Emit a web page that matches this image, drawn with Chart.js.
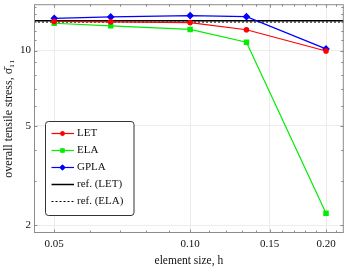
<!DOCTYPE html>
<html>
<head>
<meta charset="utf-8">
<script src="https://cdn.jsdelivr.net/npm/chart.js@4/dist/chart.umd.min.js"></script>
<style>
  html, body { margin: 0; padding: 0; background: #fff; }
  #box { width: 348px; height: 272px; }
</style>
</head>
<body>
<div id="box"><canvas id="stress"></canvas></div>
<script>
// element size h (x) and overall tensile stress (y)
const elementSizes = [0.05, 0.0667, 0.10, 0.1333, 0.20];
const stressLET = [13.07, 13.03, 12.94, 12.11, 9.96];
const stressELA = [12.86, 12.56, 12.15, 10.8, 2.23];
const stressGPLA = [13.46, 13.63, 13.8, 13.67, 10.15];
const refLET = 13.15;
const refELA = 13.0;

// ticks
const xTicks = [0.05, 0.10, 0.15, 0.20];
const xMinorTicks = [0.06, 0.07, 0.08, 0.09, 0.11, 0.12, 0.13, 0.14, 0.16, 0.17, 0.18, 0.19, 0.21];
const yTicks = [2, 5, 10];
const yMinorTicks = [3, 4, 6, 7, 8, 9, 11, 12, 13, 14, 15];
const xRange = [0.0451, 0.219];
const yRange = [1.86, 15.33];

const serif = "'Liberation Serif', 'DejaVu Serif', serif";

function pairs(xs, ys) {
    return xs.map((x, i) => ({ x: x, y: ys[i] }));
}

// cadre + graduations sur les 4 côtés
const frameTicks = {
    id: 'frameTicks',
    afterDatasetsDraw(chart) {
        const { ctx, chartArea: a, scales } = chart;
        ctx.save();
        ctx.strokeStyle = '#8c8c8c';
        ctx.lineWidth = 1;
        ctx.strokeRect(a.left + 0.5, a.top + 0.5, a.right - a.left - 1, a.bottom - a.top - 1);
        ctx.beginPath();
        const xs = xTicks.map(v => [v, 3.5]).concat(xMinorTicks.map(v => [v, 2.5]));
        xs.forEach(([v, len]) => {
            const px = Math.round(scales.x.getPixelForValue(v)) + 0.5;
            if (px < a.left || px > a.right) return;
            ctx.moveTo(px, a.bottom); ctx.lineTo(px, a.bottom - len);
            ctx.moveTo(px, a.top); ctx.lineTo(px, a.top + len);
        });
        const ys = yTicks.map(v => [v, 3.5]).concat(yMinorTicks.map(v => [v, 2.5]));
        ys.forEach(([v, len]) => {
            const py = Math.round(scales.y.getPixelForValue(v)) + 0.5;
            if (py < a.top || py > a.bottom) return;
            ctx.moveTo(a.left, py); ctx.lineTo(a.left + len, py);
            ctx.moveTo(a.right, py); ctx.lineTo(a.right - len, py);
        });
        ctx.stroke();
        ctx.restore();
    }
};

// légende dessinée dans la zone du graphe
const boxLegend = {
    id: 'boxLegend',
    afterDraw(chart) {
        const ctx = chart.ctx;
        const x0 = 45.5, y0 = 121.5, w = 88.5, h = 94;
        ctx.save();
        ctx.fillStyle = '#fff';
        ctx.strokeStyle = '#333';
        ctx.lineWidth = 1;
        ctx.beginPath();
        ctx.roundRect(x0, y0, w, h, 3);
        ctx.fill();
        ctx.stroke();
        ctx.font = '11px ' + serif;
        ctx.textBaseline = 'middle';
        chart.data.datasets.forEach((ds, i) => {
            const y = Math.round(133 + i * 17) + 0.5;
            ctx.strokeStyle = ds.borderColor;
            ctx.lineWidth = ds.borderWidth;
            ctx.setLineDash(ds.borderDash || []);
            ctx.beginPath();
            ctx.moveTo(51.5, y); ctx.lineTo(74, y);
            ctx.stroke();
            ctx.setLineDash([]);
            if (ds.pointRadius > 0) {
                ctx.fillStyle = ds.borderColor;
                Chart.helpers.drawPoint(ctx, { pointStyle: ds.pointStyle, radius: ds.pointRadius, rotation: 0, borderWidth: 0 }, 62.5, y);
                ctx.fill();
            }
            ctx.fillStyle = '#111';
            ctx.fillText(ds.label, 77, y);
        });
        ctx.restore();
    }
};

const ctxStress = document.getElementById('stress').getContext('2d');
new Chart(ctxStress, {
    type: 'line',
    data: {
        datasets: [
            { label: 'LET', data: pairs(elementSizes, stressLET), borderColor: '#ff0000', backgroundColor: '#ff0000',
              borderWidth: 1.2, pointStyle: 'circle', pointRadius: 2.2 },
            { label: 'ELA', data: pairs(elementSizes, stressELA), borderColor: '#00ee00', backgroundColor: '#00ee00',
              borderWidth: 1.2, pointStyle: 'rect', pointRadius: 3 },
            { label: 'GPLA', data: pairs(elementSizes, stressGPLA), borderColor: '#0000ff', backgroundColor: '#0000ff',
              borderWidth: 1.2, pointStyle: 'rectRot', pointRadius: 3 },
            { label: 'ref. (LET)', data: pairs(xRange, [refLET, refLET]), borderColor: '#000', backgroundColor: '#000',
              borderWidth: 1.5, pointRadius: 0 },
            { label: 'ref. (ELA)', data: pairs(xRange, [refELA, refELA]), borderColor: '#000', backgroundColor: '#000',
              borderWidth: 1, borderDash: [2, 2], pointRadius: 0 },
        ],
    },
    options: {
        responsive: true,
        maintainAspectRatio: false,
        animation: false,
        layout: { padding: { left: 0, top: 1.5, right: 4, bottom: 0 } },
        elements: { point: { borderWidth: 0, hoverRadius: 0 }, line: { tension: 0 } },
        plugins: { legend: { display: false }, tooltip: { enabled: false } },
        scales: {
            x: {
                type: 'logarithmic',
                min: xRange[0], max: xRange[1],
                afterFit: s => { s.height = 39; s.paddingLeft = 0; s.paddingRight = 0; },
                afterBuildTicks: s => { s.ticks = xTicks.map(v => ({ value: v })); },
                grid: { color: '#ececec', drawTicks: false },
                border: { display: false },
                ticks: { color: '#111', font: { family: serif, size: 11 }, padding: 5,
                         maxRotation: 0, autoSkip: false, callback: v => Number(v).toFixed(2) },
                title: { display: true, text: ['element size, h'], color: '#111',
                         font: { family: serif, size: 11.5 }, padding: { top: 0, bottom: 4 } },
            },
            y: {
                type: 'logarithmic',
                min: yRange[0], max: yRange[1],
                afterFit: s => { s.width = 34; s.paddingTop = 0; s.paddingBottom = 0; },
                afterBuildTicks: s => { s.ticks = yTicks.map(v => ({ value: v })); },
                grid: { color: '#ececec', drawTicks: false },
                border: { display: false },
                ticks: { color: '#111', font: { family: serif, size: 11 }, padding: 3,
                         autoSkip: false, callback: v => String(v) },
                title: { display: true, text: 'overall tensile stress, σ̄₁₁', color: '#111',
                         font: { family: serif, size: 12 }, padding: { top: 2, bottom: 0 } },
            },
        },
    },
    plugins: [frameTicks, boxLegend],
});
</script>
</body>
</html>
